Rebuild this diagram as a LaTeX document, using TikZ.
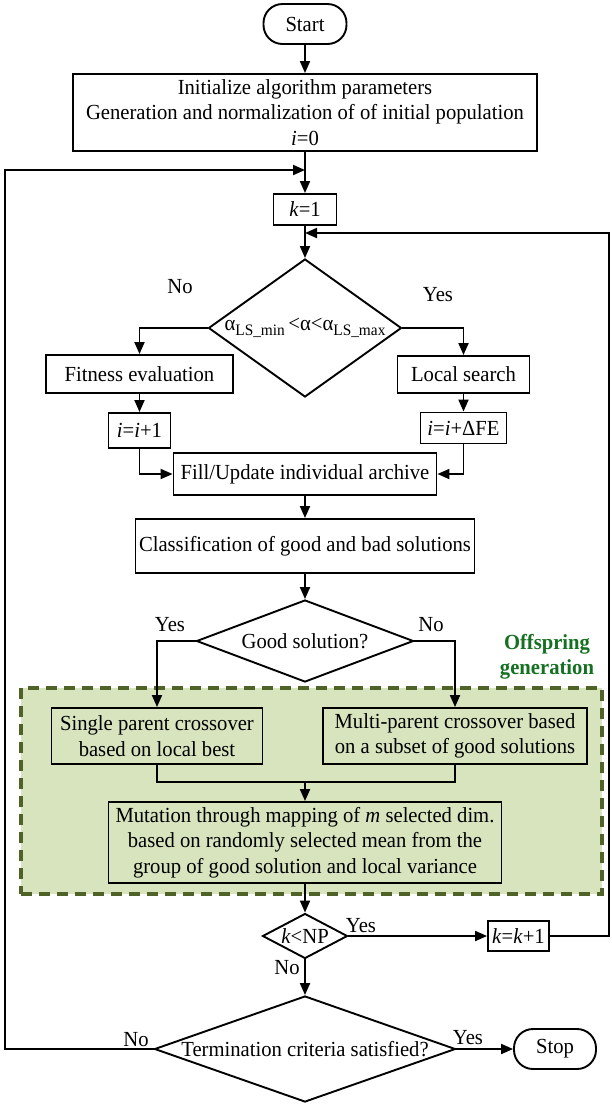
\documentclass[tikz,border=0pt]{standalone}
\usepackage{fontspec}
\setmainfont{Liberation Serif}[FakeStretch=0.96]
\usetikzlibrary{arrows.meta,shapes.geometric}
\definecolor{greenfill}{HTML}{D7E4BD}
\definecolor{greenline}{HTML}{4F6228}
\definecolor{greentext}{RGB}{22,112,34}
\begin{document}
\begin{tikzpicture}[x=1pt,y=-1pt,
  every node/.style={font=\fontsize{21.5pt}{25.5pt}\selectfont},
  box/.style={draw, line width=1.9pt, inner sep=0pt, align=center},
  term/.style={box, rounded corners=19pt},
  dia/.style={draw, line width=1.9pt, shape=diamond, inner sep=0pt},
  arr/.style={line width=1.9pt, -{Triangle[length=12pt,width=10pt]}},
  ln/.style={line width=1.9pt},
  lbl/.style={inner sep=0pt}]
\useasboundingbox (0,0) rectangle (611,1104);
% group background
\node[fill=greenfill, draw=greenline, dash pattern=on 11pt off 7pt, line width=3.2pt,
      minimum width=581pt, minimum height=206pt, inner sep=0pt] (grp) at (311.5,791) {};
\node[lbl, align=center, font=\fontsize{21.5pt}{25.5pt}\selectfont\bfseries, text=greentext] (grplbl) at (547,657) {Offspring\\generation};
% nodes
\node[term, minimum width=83pt, minimum height=40pt] (start) at (305,24) {Start};
\node[box, minimum width=464pt, minimum height=77pt] (init) at (305,112.5) {Initialize algorithm parameters\\Generation and normalization of of initial population\\\textit{i}=0};
\node[box, minimum width=63pt, minimum height=31pt] (k1) at (305,209.5) {\textit{k}=1};
\node[dia, minimum width=193pt, minimum height=138pt] (d1) at (305,328) {\makebox[0pt]{α\raisebox{-5pt}{\fontsize{16pt}{16pt}\selectfont LS\_min}\,<α<α\raisebox{-5pt}{\fontsize{16pt}{16pt}\selectfont LS\_max}}};
\node[box, minimum width=187pt, minimum height=38pt] (fit) at (139.5,374) {Fitness evaluation};
\node[box, minimum width=132pt, minimum height=37pt] (ls) at (463.5,374.5) {Local search};
\node[box, minimum width=62pt, minimum height=35pt] (inc1) at (139.5,430.5) {\textit{i}=\textit{i}+1};
\node[box, minimum width=86pt, minimum height=31pt] (incfe) at (463.5,428) {\textit{i}=\textit{i}+ΔFE};
\node[box, minimum width=263pt, minimum height=42pt] (fill) at (305,474) {Fill/Update individual archive};
\node[box, minimum width=339pt, minimum height=54pt] (cls) at (305,546) {Classification of good and bad solutions};
\node[dia, minimum width=217pt, minimum height=82pt] (d2) at (305,641) {\makebox[0pt]{Good solution?}};
\node[box, minimum width=211pt, minimum height=56pt] (single) at (157,736) {Single parent crossover\\based on local best};
\node[box, minimum width=264pt, minimum height=56pt] (multi) at (455,736) {Multi-parent crossover based\\on a subset of good solutions};
\node[box, minimum width=393pt, minimum height=81pt] (mut) at (305,842.5) {Mutation through mapping of \textit{m} selected dim.\\based on randomly selected mean from the\\group of good solution and local variance};
\node[dia, minimum width=85pt, minimum height=45pt] (d3) at (305,936) {\makebox[0pt]{\textit{k}<NP}};
\node[box, minimum width=61pt, minimum height=30pt] (kinc) at (518.5,936) {\textit{k}=\textit{k}+1};
\node[dia, minimum width=301pt, minimum height=106pt] (d4) at (305,1049) {\makebox[0pt]{Termination criteria satisfied?}};
\node[term, minimum width=82pt, minimum height=40pt] (stop) at (555,1049) {Stop};
% labels
\node[lbl] (l1) at (180,287) {No};
\node[lbl] (l2) at (438,295) {Yes};
\node[lbl] (l3) at (170,625) {Yes};
\node[lbl] (l4) at (431,625) {No};
\node[lbl] (l5) at (361,926) {Yes};
\node[lbl] (l6) at (287,968) {No};
\node[lbl] (l7) at (136,1040) {No};
\node[lbl] (l8) at (468,1038) {Yes};
% coordinates
\coordinate (merge) at (305,782);
\coordinate (rtop) at (609,233);
\coordinate (rjoin) at (305,233);
\coordinate (lbot) at (5,1049);
\coordinate (ltop) at (5,170);
\coordinate (ljoin) at (305,170);
% connectors
\draw[arr] (start) -- (init);
\draw[arr] (init) -- (k1);
\draw[arr] (k1) -- (d1);
\draw[arr] (d1.west) -| (fit.north);
\draw[arr] (d1.east) -| (ls.north);
\draw[arr] (fit) -- (inc1);
\draw[arr] (ls) -- (incfe);
\draw[arr] (inc1.south) |- (fill.west);
\draw[arr] (incfe.south) |- (fill.east);
\draw[arr] (fill) -- (cls);
\draw[arr] (cls) -- (d2);
\draw[arr] (d2.west) -| (single.north);
\draw[arr] (d2.east) -| (multi.north);
\draw[ln] (single.south) |- (merge) -| (multi.south);
\draw[arr] (merge) -- (mut);
\draw[arr] (mut) -- (d3);
\draw[arr] (d3.east) -- (kinc.west);
\draw[arr] (kinc.east) -| (rtop) -- (rjoin);
\draw[arr] (d3) -- (d4);
\draw[arr] (d4) -- (stop);
\draw[arr] (d4.west) -- (lbot) -- (ltop) -- (ljoin);
\end{tikzpicture}
\end{document}
